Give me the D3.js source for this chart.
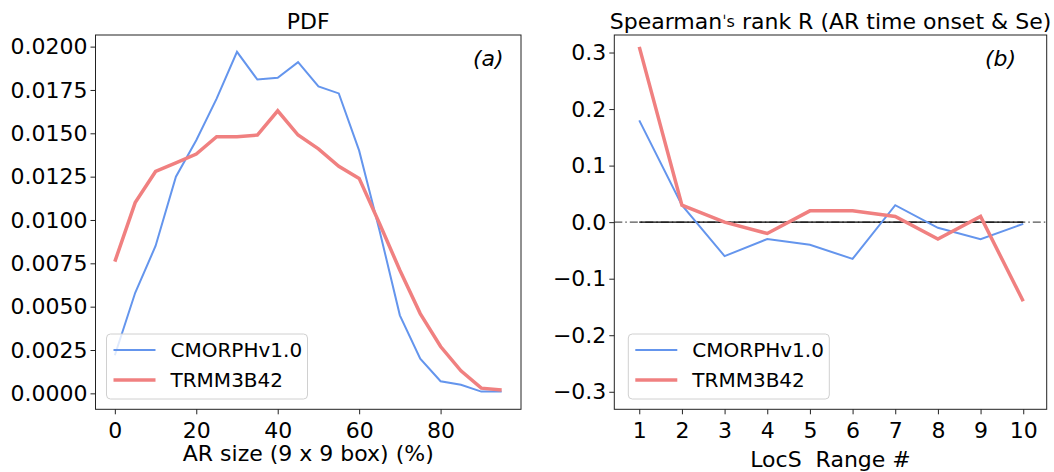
<!DOCTYPE html>
<html>
<head>
<meta charset="utf-8">
<script src="https://cdn.jsdelivr.net/npm/d3@7"></script>
<style>
  body { margin: 0; background: #fff; }
  svg text { font-family: "DejaVu Sans", sans-serif; fill: #000; }
</style>
</head>
<body>
<div id="chart"></div>
<script>
// DATA
const arSize = [0, 5, 10, 15, 20, 25, 30, 35, 40, 45, 50, 55, 60, 65, 70, 75, 80, 85, 90, 95];
const pdfCmorph = [0.0022, 0.0058, 0.0085, 0.0125, 0.0146, 0.0170, 0.0197, 0.0181, 0.0182, 0.0191,
  0.0177, 0.0173, 0.0140, 0.0094, 0.0045, 0.0020, 0.0007, 0.0005, 0.0001, 0.0001];
const pdfTrmm = [0.0076, 0.0110, 0.0128, 0.0133, 0.0138, 0.0148, 0.0148, 0.0149, 0.0163, 0.0149,
  0.0141, 0.0131, 0.0124, 0.0098, 0.0071, 0.0046, 0.0027, 0.0013, 0.0003, 0.0002];
const locsRange = [1, 2, 3, 4, 5, 6, 7, 8, 9, 10];
const rCmorph = [0.18, 0.03, -0.06, -0.03, -0.04, -0.065, 0.03, -0.01, -0.03, -0.003];
const rTrmm = [0.31, 0.03, 0.0, -0.02, 0.02, 0.02, 0.01, -0.03, 0.01, -0.14];
const seriesNames = ['CMORPHv1.0', 'TRMM3B42'];
const pdfYTicks = [0, 0.0025, 0.005, 0.0075, 0.01, 0.0125, 0.015, 0.0175, 0.02];
const pdfXTicks = [0, 20, 40, 60, 80];
const rYTicks = [-0.3, -0.2, -0.1, 0, 0.1, 0.2, 0.3];

// PLOT DEFAULTS
const W = 1054, H = 472;
const BLUE = '#6495ED', RED = '#F08080';
const FONT = 22;
const TOP = 35, BOTTOM = 409.3;

const svg = d3.select('#chart').append('svg')
  .attr('width', W).attr('height', H);

function drawPanel (opt) {
  const g = svg.append('g');
  const x = d3.scaleLinear().domain(opt.xDomain).range([opt.left, opt.right]);
  const y = d3.scaleLinear().domain(opt.yDomain).range([BOTTOM, TOP]);

  // zero line: dash-dot across the box, solid over the data range
  if (opt.zero) {
    g.append('line')
      .attr('x1', opt.left).attr('x2', opt.right)
      .attr('y1', y(0)).attr('y2', y(0))
      .attr('stroke', '#555').attr('stroke-width', 1.2)
      .attr('stroke-dasharray', '8,3,1.5,3');
    g.append('line')
      .attr('x1', x(1)).attr('x2', x(10))
      .attr('y1', y(0)).attr('y2', y(0))
      .attr('stroke', '#000').attr('stroke-width', 1.2);
  }

  const line = d3.line().x(d => x(d[0])).y(d => y(d[1]));
  g.append('path')
    .datum(opt.xs.map((v, i) => [v, opt.blue[i]]))
    .attr('d', line).attr('fill', 'none')
    .attr('stroke', BLUE).attr('stroke-width', 2);
  g.append('path')
    .datum(opt.xs.map((v, i) => [v, opt.red[i]]))
    .attr('d', line).attr('fill', 'none')
    .attr('stroke', RED).attr('stroke-width', 3.5);

  // axes
  const xAxis = g.append('g')
    .attr('transform', `translate(0, ${BOTTOM})`)
    .call(d3.axisBottom(x).tickValues(opt.xTicks).tickFormat(opt.xFmt).tickSize(5).tickPadding(4));
  const yAxis = g.append('g')
    .attr('transform', `translate(${opt.left}, 0)`)
    .call(d3.axisLeft(y).tickValues(opt.yTicks).tickFormat(opt.yFmt).tickSize(5).tickPadding(3));
  [xAxis, yAxis].forEach(a => {
    a.select('.domain').remove();
    a.selectAll('.tick line').attr('stroke', '#222').attr('stroke-width', 1);
    a.selectAll('.tick text').style('font-size', FONT + 'px').style('font-family', '"DejaVu Sans", sans-serif');
  });
  xAxis.selectAll('.tick text').attr('dy', '0.9em');

  // frame
  g.append('rect')
    .attr('x', opt.left).attr('y', TOP)
    .attr('width', opt.right - opt.left).attr('height', BOTTOM - TOP)
    .attr('fill', 'none').attr('stroke', '#222').attr('stroke-width', 1);

  // title, label, panel tag
  g.append('text')
    .attr('x', (opt.left + opt.right) / 2).attr('y', 29)
    .attr('text-anchor', 'middle').style('font-size', FONT + 'px')
    .html(opt.title);
  g.append('text')
    .attr('x', (opt.left + opt.right) / 2).attr('y', opt.xLabelY)
    .attr('text-anchor', 'middle').style('font-size', FONT + 'px')
    .attr('xml:space', 'preserve')
    .text(opt.xLabel);
  g.append('text')
    .attr('x', opt.tagX).attr('y', 66)
    .style('font-size', FONT + 'px').style('font-style', 'italic')
    .text(opt.tag);

  // legend
  const lg = g.append('g').attr('transform', `translate(${opt.left + opt.legendDx}, 334)`);
  lg.append('rect')
    .attr('width', 201).attr('height', 65).attr('rx', 4)
    .attr('fill', 'rgba(255,255,255,0.8)').attr('stroke', '#d0d0d0').attr('stroke-width', 1);
  seriesNames.forEach((name, i) => {
    const yy = 16 + i * 30;
    lg.append('line')
      .attr('x1', 7).attr('x2', 49).attr('y1', yy).attr('y2', yy)
      .attr('stroke', i === 0 ? BLUE : RED).attr('stroke-width', i === 0 ? 2 : 3.5);
    lg.append('text')
      .attr('x', 64).attr('y', yy + 7)
      .style('font-size', '20px')
      .text(name);
  });
}

drawPanel({
  left: 95.5, right: 521,
  xDomain: [-4.75, 99.75], yDomain: [-0.00092, 0.02067],
  xs: arSize, blue: pdfCmorph, red: pdfTrmm,
  xTicks: pdfXTicks, yTicks: pdfYTicks,
  xFmt: d3.format('d'), yFmt: d3.format('.4f'),
  title: 'PDF', xLabel: 'AR size (9 x 9 box) (%)', xLabelY: 461,
  tag: '(a)', tagX: 473, legendDx: 11, zero: false
});

drawPanel({
  left: 614.3, right: 1046.7,
  xDomain: [0.415, 10.55], yDomain: [-0.331, 0.331],
  xs: locsRange, blue: rCmorph, red: rTrmm,
  xTicks: locsRange, yTicks: rYTicks,
  xFmt: d3.format('d'), yFmt: d3.format('.1f'),
  title: 'Spearman<tspan style="font-size:16px" dy="-2">\u02c8s</tspan><tspan dy="2"> rank R (AR time onset &amp; Se)</tspan>',
  xLabel: 'LocS  Range #', xLabelY: 467,
  tag: '(b)', tagX: 985, legendDx: 14, zero: true
});
</script>
</body>
</html>
